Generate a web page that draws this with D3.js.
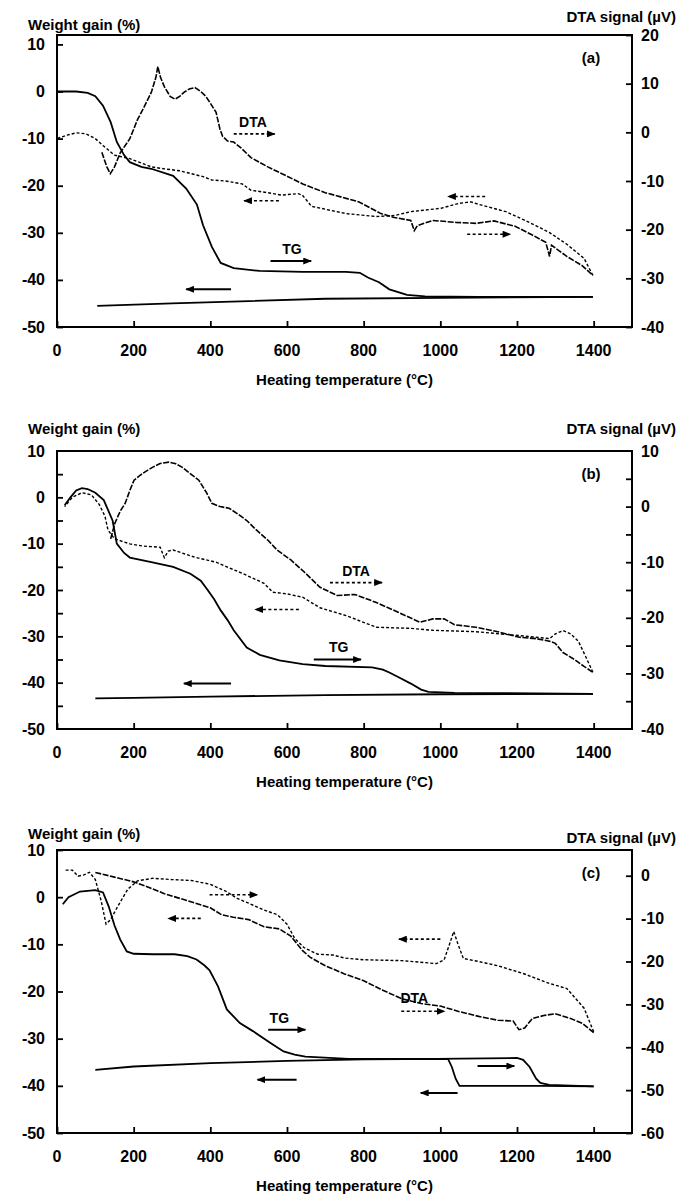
<!DOCTYPE html>
<html><head><meta charset="utf-8">
<script src="https://cdn.jsdelivr.net/npm/d3@7"></script>
<style>
body{margin:0;background:#fff}
text{font-family:"Liberation Sans",Arial,sans-serif;font-weight:bold;fill:#000}
</style>
</head><body>
<svg id="chart" width="678" height="1200"></svg>
<script>
// ---------- shared tick labels ----------
const xTicks = [0,200,400,600,800,1000,1200,1400];
const leftTicks = [10,0,-10,-20,-30,-40,-50];
const rightTicksA = [20,10,0,-10,-20,-30,-40];
const rightTicksB = [10,0,-10,-20,-30,-40];
const rightTicksC = [0,-10,-20,-30,-40,-50,-60];
const panelLabels = ["(a)","(b)","(c)"];
const xTitle = "Heating temperature (°C)";
const leftTitle = "Weight gain (%)";
const rightTitle = "DTA signal (µV)";

// ---------- panel (a) ----------  [temperature, value]
const tgHeatA = [[0,0],[50,0],[80,-0.3],[100,-1],[120,-3],[140,-6.5],[156,-10.7],[175,-13.5],[190,-15],[220,-16],[246,-16.4],[303,-17.9],[337,-20.6],[365,-24],[381,-28.4],[404,-33],[427,-36.4],[461,-37.5],[529,-38.1],[641,-38.3],[754,-38.3],[790,-38.5],[811,-39.5],[840,-40.5],[867,-42],[913,-43.2],[960,-43.5],[1100,-43.6],[1398,-43.6]];
const tgCoolA = [[1398,-43.6],[1000,-43.8],[700,-44],[500,-44.5],[300,-45],[105,-45.5]];
const dtaHeatA = [[117,-4.1],[130,-7.1],[139,-8.5],[150,-7.1],[165,-4.2],[190,-1.3],[210,2.6],[224,4.7],[246,8.2],[258,11.3],[263,13.5],[270,11.3],[280,9.4],[295,7.4],[308,6.8],[320,7.4],[331,8.2],[345,8.9],[360,9.2],[375,8.4],[388,7.4],[400,6],[415,4.1],[425,0.7],[432,-0.8],[445,-1.8],[461,-2],[480,-3.2],[506,-5.2],[550,-7.1],[600,-9],[641,-10.6],[700,-12.4],[788,-14.3],[845,-16.7],[880,-17.5],[923,-18.1],[932,-20.2],[940,-19.2],[980,-18.1],[1040,-18.5],[1093,-18.7],[1140,-18.2],[1195,-19.3],[1240,-21.1],[1275,-22.6],[1285,-25.5],[1290,-23.2],[1330,-25.5],[1370,-27.4],[1398,-29.4]];
const dtaCoolA = [[1398,-29.4],[1375,-25.9],[1330,-23],[1285,-20.6],[1250,-19.2],[1218,-18],[1171,-16.3],[1100,-14.8],[1080,-14.3],[1048,-14.6],[1002,-15.6],[923,-16.3],[880,-17.1],[833,-17.3],[754,-16.7],[700,-15.8],[664,-15.2],[640,-12.9],[629,-12.6],[585,-12.9],[550,-12.4],[506,-11.9],[483,-10.6],[440,-10],[404,-9.8],[381,-9.1],[320,-7.9],[280,-7.5],[246,-7.1],[190,-5.4],[150,-4.7],[120,-2.7],[100,-1.3],[75,-0.3],[50,-0.1],[25,-0.6],[0,-1.3]];
// arrows: [T start, T end (head), weight-gain value, style]
const arrowsA = [[461,568,-9,"dash"],[579,488,-23.2,"dash"],[1117,1020,-22.3,"dash"],[1070,1183,-30.3,"dash"],[557,663,-36,"solid"],[454,337,-42,"solid"]];
const notesA = [["DTA",511,-6.5],["TG",613,-33.5]];

// ---------- panel (b) ----------
const tgHeatB = [[20,-1.7],[35,0],[50,1.5],[65,2],[80,1.8],[100,1],[122,-0.6],[145,-5],[156,-10],[175,-12],[190,-13],[246,-14],[303,-15],[348,-16.5],[375,-18],[393,-20],[410,-22],[427,-24.4],[445,-26.5],[461,-28.7],[495,-32.4],[529,-34],[580,-35.2],[641,-36],[700,-36.4],[822,-36.7],[850,-37.2],[867,-37.8],[895,-39],[923,-40.2],[950,-41.5],[969,-42],[1037,-42.2],[1398,-42.4]];
const tgCoolB = [[1398,-42.4],[1000,-42.5],[700,-42.7],[400,-43],[200,-43.3],[100,-43.4]];
const dtaHeatB = [[140,-5.8],[151,-3],[165,-0.8],[178,0.6],[190,2.9],[201,4.75],[224,6],[250,7.1],[269,7.75],[292,8],[310,7.7],[326,7.1],[350,5.8],[370,4.75],[390,2.5],[404,0.6],[425,0],[449,-0.3],[470,-1.25],[495,-2.5],[520,-4.2],[551,-6.1],[574,-7.8],[610,-9.6],[641,-11.5],[686,-14.5],[731,-16],[777,-15.8],[833,-17.25],[890,-19],[947,-20.8],[980,-20.2],[1010,-20.2],[1037,-21.25],[1093,-21.7],[1150,-22.5],[1206,-23.5],[1250,-23.75],[1285,-24.2],[1300,-24.6],[1320,-26.25],[1350,-27.5],[1375,-28.75],[1398,-29.8]];
const dtaCoolB = [[1398,-29.8],[1380,-27.1],[1360,-24.2],[1340,-22.9],[1320,-22.3],[1300,-22.9],[1285,-23.75],[1206,-23.2],[1093,-22.5],[980,-22.25],[923,-21.9],[833,-21.7],[754,-19.6],[686,-18.2],[641,-16.3],[600,-15.7],[563,-15.4],[540,-13.8],[483,-12],[415,-10],[359,-9.1],[303,-7.8],[290,-8],[280,-9.2],[269,-7.3],[224,-7.1],[190,-6.7],[170,-6.25],[150,-5.8],[133,-4.2],[125,-1.7],[110,0.4],[90,2.1],[65,2.5],[40,1.67],[20,0]];
const arrowsB = [[712,848,-18.4,"dash"],[631,517,-24.2,"dash"],[670,793,-35,"solid"],[454,331,-40.2,"solid"]];
const notesB = [["DTA",780,-15.8],["TG",735,-32.4]];

// ---------- panel (c) ----------
const tgHeatC = [[15,-1.5],[30,0],[60,1.2],[100,1.5],[120,1],[135,-2],[150,-6],[165,-9],[182,-11.5],[200,-12],[250,-12.1],[307,-12.1],[340,-12.5],[364,-13.2],[385,-14.5],[398,-15.5],[420,-18.9],[443,-23.8],[477,-26.7],[511,-28.4],[557,-30.9],[591,-32.7],[620,-33.4],[648,-33.8],[761,-34.3],[989,-34.3],[1200,-34.1],[1216,-34.5],[1233,-36],[1250,-38.5],[1261,-39.4],[1284,-39.8],[1400,-40.1]];
const tgCoolC = [[1400,-40.1],[1260,-40],[1050,-40],[1040,-38.5],[1030,-36],[1020,-34.3],[800,-34.4],[600,-34.7],[400,-35.2],[200,-35.9],[100,-36.6]];
const dtaHeatC = [[100,0.77],[150,-0.33],[200,-1.43],[240,-2.75],[280,-4.18],[320,-5.28],[360,-6.38],[400,-7.48],[430,-9.13],[460,-9.68],[500,-10.23],[540,-11.9],[580,-12.4],[610,-14.1],[640,-17.4],[660,-19],[700,-21],[750,-22.9],[800,-24.5],[850,-26.7],[900,-28.7],[950,-29.8],[1000,-30.4],[1050,-31.7],[1100,-32.8],[1150,-33.7],[1190,-33.9],[1205,-35.9],[1220,-35.5],[1240,-33.3],[1270,-32.6],[1300,-32.2],[1340,-33.3],[1370,-34.4],[1400,-36.6]];
const dtaCoolC = [[1400,-36.4],[1375,-30.9],[1330,-26.3],[1284,-25.1],[1216,-22.8],[1150,-21],[1100,-20],[1060,-19.3],[1045,-15.7],[1035,-13],[1025,-15.7],[1010,-19.6],[990,-20.5],[900,-19.8],[800,-19.6],[750,-19.2],[720,-18.5],[680,-18.3],[645,-16.8],[620,-14.6],[600,-11.3],[575,-9.1],[540,-8],[500,-6.4],[470,-5.3],[440,-3.6],[400,-2],[350,-1.1],[300,-0.9],[250,-0.6],[210,-1.2],[185,-3.1],[160,-6.9],[140,-10.2],[128,-11.3],[115,-5.8],[100,-0.9],[85,0.8],[70,0.2],[55,-0.1],[40,1.3],[20,1.3]];
const arrowsC = [[398,523,0.5,"dash"],[375,290,-4.5,"dash"],[1000,892,-8.9,"dash"],[898,1011,-24.2,"dash"],[551,648,-28.1,"solid"],[625,523,-38.7,"solid"],[1097,1193,-35.8,"solid"],[1045,949,-41.5,"solid"]];
const notesC = [["DTA",932,-21.3],["TG",580,-25.6]];

// ---------- layout ----------
const svg = d3.select("#chart");
const x = d3.scaleLinear().domain([0,1500]).range([57,632]);
const defs = svg.append("defs");
defs.append("marker").attr("id","head").attr("viewBox","0 0 10 8").attr("refX",9).attr("refY",4)
  .attr("markerWidth",9).attr("markerHeight",7).attr("markerUnits","userSpaceOnUse").attr("orient","auto")
  .append("path").attr("d","M0,0L10,4L0,8Z").attr("fill","#000");

const panels = [
  {top:35,bottom:327,ld:[-50,12],rd:[-40,20],rt:rightTicksA,minor:false,
   tgH:tgHeatA,tgC:tgCoolA,dH:dtaHeatA,dC:dtaCoolA,arrows:arrowsA,notes:notesA,lty:24,rty:16},
  {top:451,bottom:729,ld:[-50,10],rd:[-40,10],rt:rightTicksB,minor:true,
   tgH:tgHeatB,tgC:tgCoolB,dH:dtaHeatB,dC:dtaCoolB,arrows:arrowsB,notes:notesB,lty:428,rty:428},
  {top:850,bottom:1133,ld:[-50,10],rd:[-60,6],rt:rightTicksC,minor:false,
   tgH:tgHeatC,tgC:tgCoolC,dH:dtaHeatC,dC:dtaCoolC,arrows:arrowsC,notes:notesC,lty:833,rty:837}
];

panels.forEach((p,i)=>{
  const g = svg.append("g");
  const yL = d3.scaleLinear().domain(p.ld).range([p.bottom,p.top]);
  const yR = d3.scaleLinear().domain(p.rd).range([p.bottom,p.top]);
  const line = (ys)=>d3.line().x(d=>x(d[0])).y(d=>ys(d[1])).curve(d3.curveLinear);

  // axes (ticks inward)
  const ax = g.append("g").attr("transform",`translate(0,${p.bottom})`)
    .call(d3.axisTop(x).tickValues(xTicks).tickSize(6).tickFormat(""));
  const axL = g.append("g").attr("transform",`translate(${x.range()[0]},0)`)
    .call(d3.axisRight(yL).tickValues(p.minor? d3.range(-45,10,5):leftTicks).tickSize(6).tickFormat(""));
  const axR = g.append("g").attr("transform",`translate(${x.range()[1]},0)`)
    .call(d3.axisLeft(yR).tickValues(p.minor? d3.range(-35,10,5):p.rt).tickSize(6).tickFormat(""));
  [ax,axL,axR].forEach(a=>{a.select(".domain").remove(); a.selectAll("line").attr("stroke","#000").attr("stroke-width",1.8);});

  // frame
  g.append("rect").attr("x",x.range()[0]).attr("y",p.top)
    .attr("width",x.range()[1]-x.range()[0]).attr("height",p.bottom-p.top)
    .attr("fill","none").attr("stroke","#000").attr("stroke-width",2);

  // tick labels
  g.selectAll(".xl").data(xTicks).join("text").attr("x",d=>x(d)).attr("y",p.bottom+23)
    .attr("text-anchor","middle").attr("dominant-baseline","central").attr("font-size",16).text(d=>d);
  g.selectAll(".ll").data(leftTicks).join("text").attr("x",45).attr("y",d=>yL(d))
    .attr("text-anchor","end").attr("dominant-baseline","central").attr("font-size",16).text(d=>d);
  g.selectAll(".rl").data(p.rt).join("text").attr("x",641).attr("y",d=>yR(d))
    .attr("text-anchor","start").attr("dominant-baseline","central").attr("font-size",16).text(d=>d);

  // titles
  g.append("text").attr("x",28).attr("y",p.lty).attr("dominant-baseline","central").attr("font-size",15).text(leftTitle);
  g.append("text").attr("x",676).attr("y",p.rty).attr("text-anchor","end").attr("dominant-baseline","central").attr("font-size",15).text(rightTitle);
  g.append("text").attr("x",(x.range()[0]+x.range()[1])/2).attr("y",p.bottom+52)
    .attr("text-anchor","middle").attr("dominant-baseline","central").attr("font-size",15).text(xTitle);
  g.append("text").attr("x",591).attr("y",p.top+22).attr("text-anchor","middle")
    .attr("dominant-baseline","central").attr("font-size",15).text(panelLabels[i]);

  // curves
  g.append("path").datum(p.tgH).attr("d",line(yL)).attr("fill","none").attr("stroke","#000").attr("stroke-width",1.8);
  g.append("path").datum(p.tgC).attr("d",line(yL)).attr("fill","none").attr("stroke","#000").attr("stroke-width",1.8);
  g.append("path").datum(p.dH).attr("d",line(yR)).attr("fill","none").attr("stroke","#000").attr("stroke-width",1.6).attr("stroke-dasharray","6,1.5");
  g.append("path").datum(p.dC).attr("d",line(yR)).attr("fill","none").attr("stroke","#000").attr("stroke-width",1.4).attr("stroke-dasharray","3,2");

  // arrows
  g.selectAll(".ar").data(p.arrows).join("line")
    .attr("x1",d=>x(d[0])).attr("x2",d=>x(d[1])).attr("y1",d=>yL(d[2])).attr("y2",d=>yL(d[2]))
    .attr("stroke","#000").attr("stroke-width",d=>d[3]==="solid"?2:1.6)
    .attr("stroke-dasharray",d=>d[3]==="solid"?null:"3,2.5").attr("marker-end","url(#head)");
  g.selectAll(".nt").data(p.notes).join("text").attr("x",d=>x(d[1])).attr("y",d=>yL(d[2]))
    .attr("text-anchor","middle").attr("dominant-baseline","central").attr("font-size",14).text(d=>d[0]);
});
</script>
</body></html>
